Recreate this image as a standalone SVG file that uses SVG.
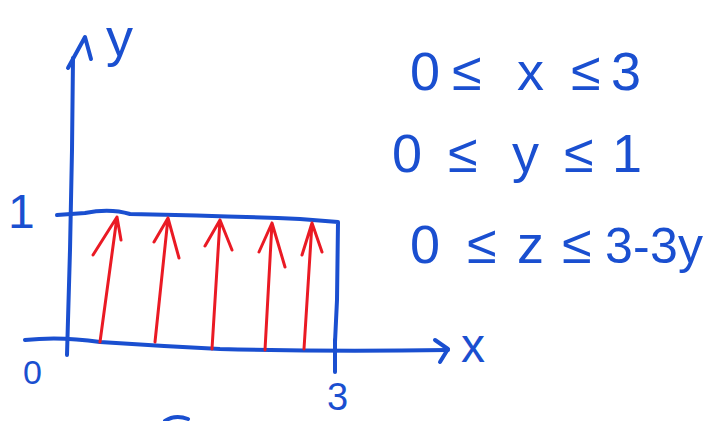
<svg xmlns="http://www.w3.org/2000/svg" width="721" height="421" viewBox="0 0 721 421">
<style>
.b{fill:none;stroke:#1a4fd0;stroke-width:4;stroke-linecap:round;stroke-linejoin:round}
.r{fill:none;stroke:#ea1a24;stroke-width:3;stroke-linecap:round;stroke-linejoin:round}
.t{fill:#1a4fd0;font-family:"Liberation Sans","DejaVu Sans",sans-serif}
</style>
<rect width="721" height="421" fill="#fff"/>
<g id="axes">
<path class="b" d="M73 58 L72 150 L70 250 L67 355"/>
<path class="b" d="M68 68 L85 37 L91 59"/>
<path class="b" d="M25 340 Q60 336 100 342 Q160 346 220 349 Q330 352 448 350"/>
<path class="b" d="M435 340 L448 349 L440 362"/>
<path class="b" d="M335 340 L335 372"/>
<path class="b" d="M165 421 Q175 414 188 419"/>
</g>
<g id="rectangle">
<path class="b" d="M57 215 L85 213 Q110 208 130 214 Q230 216 300 219 L338 222 L337 300 L335 342"/>
</g>
<g id="connectors">
<path class="r" d="M100 342 L117 217 M93 255 L117 217 L121 240"/>
<path class="r" d="M155 342 L168 218 M154 242 L168 218 L179 258"/>
<path class="r" d="M212 349 L220 220 M205 246 L220 220 L232 250"/>
<path class="r" d="M265 350 L272 223 M259 252 L272 223 L285 267"/>
<path class="r" d="M304 349 L312 223 M302 255 L312 223 L322 252"/>
</g>
<g id="labels">
<text class="t" x="106" y="56" font-size="54">y</text>
<text class="t" x="8" y="228" font-size="48">1</text>
<text class="t" x="23" y="384" font-size="34">0</text>
<text class="t" x="327" y="410" font-size="38">3</text>
<text class="t" x="461" y="362" font-size="48">x</text>
</g>
<g id="constraints">
<text class="t" font-size="54" y="90" x="410 440 452 485 517 548 571 600 611">0 ≤ x ≤ 3</text>
<text class="t" font-size="54" y="172" x="392 420 448 482 512 550 564 596 612">0 ≤ y ≤ 1</text>
<text class="t" font-size="54" y="263"><tspan x="410 440 467 499 517 548 562 590">0 ≤ z ≤ </tspan><tspan font-size="50" x="605 633 650 678">3-3y</tspan></text>
</g>
</svg>
